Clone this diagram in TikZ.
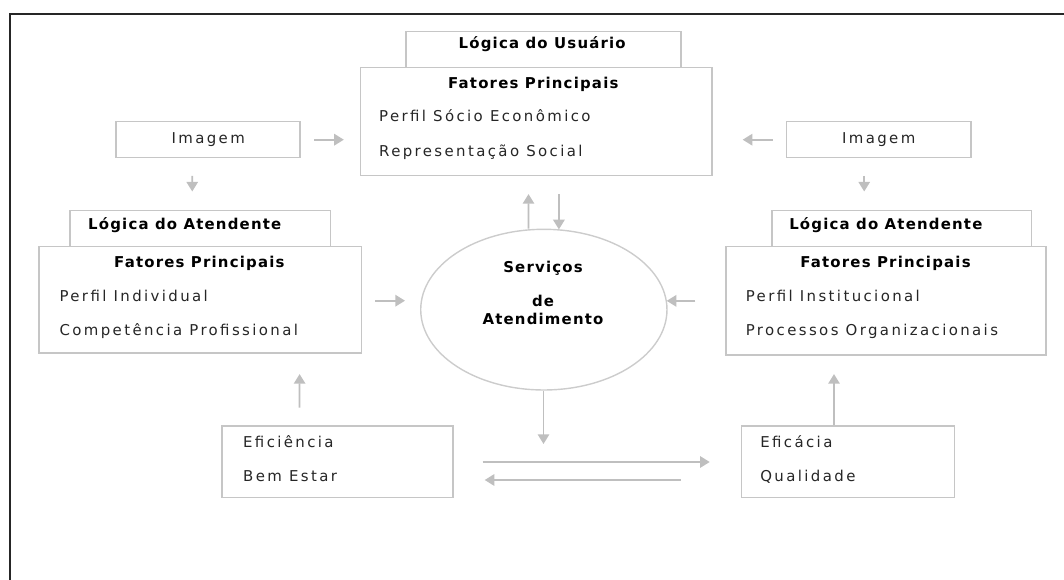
\documentclass[tikz,border=0pt]{standalone}
\usepackage{fontspec}
\setmainfont{DejaVu Sans}
\newfontfamily\plainfont[LetterSpace=16]{DejaVu Sans}
\newfontfamily\headfont[LetterSpace=8]{DejaVu Sans}
\usetikzlibrary{arrows.meta,calc,shapes.geometric}

\begin{document}
\begin{tikzpicture}[
    x=0.02cm, y=-0.02cm,
    >={Triangle[length=5.5pt,width=6.5pt]},
    frame/.style={line width=1.1pt, black!85},
    box/.style={draw=gray!45, line width=0.9pt, fill=white, inner sep=0pt},
    ring/.style={ellipse, draw=gray!40, line width=0.8pt, inner sep=0pt},
    flow/.style={->, draw=gray!50, line width=1pt},
    head/.style={font=\headfont\bfseries\fontsize{8.5}{10}\selectfont, inner sep=0pt},
    txt/.style={font=\plainfont\fontsize{8.5}{10}\selectfont, text=black!85, inner sep=0pt}
]
    \useasboundingbox (0,0) rectangle (1064,580);
    \draw[frame] (10.3,580) -- (10.3,14) -- (1064,14);

    % Logica do Usuario
    \node[box, minimum width=5.512cm, minimum height=0.712cm] (usertab) at (543.5,49.5) {};
    \node[box, minimum width=7.026cm, minimum height=2.168cm] (userbox) at (536.25,121.5) {};
    \node[head, anchor=base] (usertabT) at (542.2,48.8) {Lógica do Usuário};
    \node[head, anchor=base] (userT) at (533.3,88.5) {Fatores Principais};
    \node[txt, anchor=base west] (userA) at (378.8,121.8) {Perfil Sócio Econômico};
    \node[txt, anchor=base west] (userB) at (378.8,156.2) {Representação Social};

    % imagens
    \node[box, txt, minimum width=3.684cm, minimum height=0.72cm] (imgL) at (208.2,139.7) {Imagem};
    \node[box, txt, minimum width=3.692cm, minimum height=0.72cm] (imgR) at (878.7,139.7) {Imagem};

    % Logica do Atendente, esquerda
    \node[box, minimum width=5.214cm, minimum height=0.72cm] (tabL) at (200.25,228.7) {};
    \node[box, minimum width=6.454cm, minimum height=2.132cm] (atendL) at (200.25,300) {};
    \node[head, anchor=base west] (tabLT) at (87.8,229.8) {Lógica do Atendente};
    \node[head, anchor=base] (atendLT) at (199.4,267.8) {Fatores Principais};
    \node[txt, anchor=base west] (atendLA) at (59.2,301.8) {Perfil Individual};
    \node[txt, anchor=base west] (atendLB) at (59.2,335.5) {Competência Profissional};

    % Logica do Atendente, direita
    \node[box, minimum width=5.19cm, minimum height=0.72cm] (tabR) at (901.95,228.7) {};
    \node[box, minimum width=6.412cm, minimum height=2.166cm] (atendR) at (886,300.85) {};
    \node[head, anchor=base west] (tabRT) at (788.9,229.8) {Lógica do Atendente};
    \node[head, anchor=base] (atendRT) at (885.5,267.8) {Fatores Principais};
    \node[txt, anchor=base west] (atendRA) at (745.5,301.8) {Perfil Institucional};
    \node[txt, anchor=base west] (atendRB) at (745.5,335.5) {Processos Organizacionais};

    % servicos
    \node[ring, minimum width=4.926cm, minimum height=3.214cm] (serv) at (543.85,309.65) {};
    \node[head, anchor=base] (servA) at (543,272.8) {Serviços};
    \node[head, anchor=base] (servB) at (543,306.2) {de};
    \node[head, anchor=base] (servC) at (543,324.5) {Atendimento};

    % resultados
    \node[box, minimum width=4.616cm, minimum height=1.426cm] (efL) at (337.5,461.65) {};
    \node[txt, anchor=base west] (efLA) at (242.8,447.2) {Eficiência};
    \node[txt, anchor=base west] (efLB) at (242.8,481.2) {Bem Estar};
    \node[box, minimum width=4.262cm, minimum height=1.426cm] (efR) at (847.85,461.65) {};
    \node[txt, anchor=base west] (efRA) at (760,447.2) {Eficácia};
    \node[txt, anchor=base west] (efRB) at (760,481.2) {Qualidade};

    % setas
    \draw[flow] ($(imgL.east)+(13,0)$) -- ($(imgL.east-|userbox.west)+(-16,0)$);
    \draw[flow] ($(imgR.west)+(-13,0)$) -- ($(imgR.west-|userbox.east)+(30,0)$);
    \draw[flow] ($(imgL.south)+(-16,17.3)$) -- ($(tabL.north)+(-8,-18.4)$);
    \draw[flow] ($(imgR.south)+(-14.5,17.3)$) -- ($(tabR.north)+(-37.75,-18.4)$);
    \draw[flow] ($(serv.north)+(-15.3,0)$) -- ($(userbox.south)+(-7.75,17.6)$);
    \draw[flow] ($(userbox.south)+(22.65,17.6)$) -- ($(serv.north)+(15.05,0.8)$);
    \draw[flow] ($(atendL.east)+(13.1,0.7)$) -- ($(atendL.east-|serv.west)+(-15,0.7)$);
    \draw[flow] ($(atendR.west)+(-29.5,0)$) -- ($(atendR.west-|serv.east)+(-1,0)$);
    \draw[flow] ($(serv.south)+(-0.35,0)$) -- ($(serv.south)+(-0.35,53.3)$);
    \draw[flow] ($(efL.east)+(29,0.35)$) -- ($(efR.west)+(-30.8,0.35)$);
    \draw[flow] ($(efR.west)+(-60,18.35)$) -- ($(efL.east)+(31,18.35)$);
    \draw[flow] ($(efL.north)+(-37.9,-17.7)$) -- ($(atendL.south)+(99.35,20)$);
    \draw[flow] ($(efR.north)+(-13.85,0)$) -- ($(atendR.south)+(-52,18.3)$);
\end{tikzpicture}
\end{document}
